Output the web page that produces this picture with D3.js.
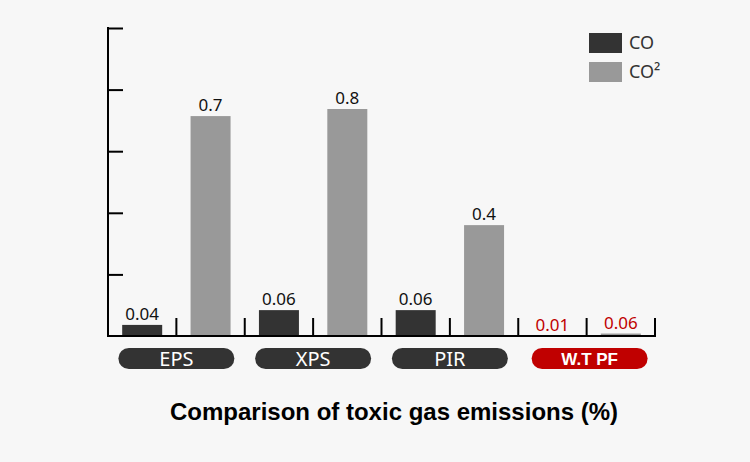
<!DOCTYPE html>
<html>
<head>
<meta charset="utf-8">
<script src="https://cdn.jsdelivr.net/npm/d3@7"></script>
<style>
  body { margin: 0; background: #f7f7f7; }
  svg { display: block; }
</style>
</head>
<body>
<svg width="750" height="462"></svg>
<script>
// materials along the x axis
const materials = ["EPS", "XPS", "PIR", "W.T PF"];
const series = ["CO", "CO²"];

// printed labels above each bar
const coLabels = ["0.04", "0.06", "0.06", "0.01"];
const co2Labels = ["0.7", "0.8", "0.4", "0.06"];

// bar heights as drawn, read against the (unlabelled) axis, 0..1
const coBars = [0.036, 0.084, 0.084, 0];
const co2Bars = [0.714, 0.737, 0.36, 0.008];

const yTicks = [0.2, 0.4, 0.6, 0.8, 1.0];

var plotLeft = 108, plotRight = 655, plotTop = 28, baseline = 336;

var svg = d3.select("svg");

var x0 = d3.scaleBand()
    .domain(materials)
    .range([plotLeft, plotRight]);

var x1 = d3.scaleBand()
    .domain(series)
    .range([0, x0.bandwidth()]);

var y = d3.scaleLinear()
    .domain([0, 1])
    .range([baseline, plotTop]);

var colors = d3.scaleOrdinal()
    .domain(series)
    .range(["#333333", "#999999"]);

// flatten into bar records
let bars = [];
for (let i = 0; i < materials.length; i++) {
    bars.push({m: materials[i], s: series[0], v: coBars[i], label: coLabels[i]});
    bars.push({m: materials[i], s: series[1], v: co2Bars[i], label: co2Labels[i]});
}

var barW = 40;

svg.selectAll("rect.bar")
    .data(bars)
    .enter()
    .append("rect")
    .attr("class", "bar")
    .attr("x", d => x0(d.m) + x1(d.s) + x1.bandwidth() / 2 - barW / 2)
    .attr("y", d => y(d.v))
    .attr("width", barW)
    .attr("height", d => y(0) - y(d.v))
    .attr("fill", d => colors(d.s));

svg.selectAll("text.val")
    .data(bars)
    .enter()
    .append("text")
    .attr("class", "val")
    .attr("x", d => x0(d.m) + x1(d.s) + x1.bandwidth() / 2)
    .attr("y", d => Math.min(y(d.v) - 5, baseline - 4))
    .attr("text-anchor", "middle")
    .style("font-family", "'Noto Sans', sans-serif")
    .style("font-size", "17px")
    .attr("fill", d => d.m == "W.T PF" ? "#c00000" : "#111")
    .text(d => d.label);

// left axis with ticks pointing inward
var yAxis = d3.axisRight(y)
    .tickValues(yTicks)
    .tickSize(15)
    .tickFormat("");

var gy = svg.append("g")
    .attr("transform", "translate(" + plotLeft + ",0)")
    .call(yAxis);
gy.select(".domain").remove();
gy.selectAll("line").attr("stroke", "#000").attr("stroke-width", 2);
svg.append("line")
    .attr("x1", plotLeft).attr("x2", plotLeft)
    .attr("y1", plotTop - 1).attr("y2", baseline + 1)
    .attr("stroke", "#000").attr("stroke-width", 2);

// bottom axis, ticks between every bar slot
var slots = [];
materials.forEach(m => series.forEach(s => slots.push(m + "|" + s)));
var xs = d3.scaleBand().domain(slots).range([plotLeft, plotRight]);

svg.append("line")
    .attr("x1", plotLeft - 1).attr("x2", plotRight + 1)
    .attr("y1", baseline).attr("y2", baseline)
    .attr("stroke", "#000").attr("stroke-width", 2);

svg.selectAll("line.xtick")
    .data(slots.slice(1))
    .enter()
    .append("line")
    .attr("class", "xtick")
    .attr("x1", d => xs(d)).attr("x2", d => xs(d))
    .attr("y1", baseline).attr("y2", baseline - 18)
    .attr("stroke", "#000").attr("stroke-width", 2);
svg.append("line")
    .attr("x1", plotRight).attr("x2", plotRight)
    .attr("y1", baseline).attr("y2", baseline - 18)
    .attr("stroke", "#000").attr("stroke-width", 2);

// material pills
var pillW = 116, pillH = 21;
var pills = svg.selectAll("g.pill")
    .data(materials)
    .enter()
    .append("g")
    .attr("class", "pill")
    .attr("transform", d => "translate(" + (x0(d) + x0.bandwidth() / 2 + (d == "W.T PF" ? 3 : 0)) + "," + (baseline + 12) + ")");

pills.append("rect")
    .attr("x", -pillW / 2)
    .attr("width", pillW)
    .attr("height", pillH)
    .attr("rx", pillH / 2)
    .attr("fill", d => d == "W.T PF" ? "#c00000" : "#333333");

pills.append("text")
    .attr("y", pillH / 2)
    .attr("dy", "0.36em")
    .attr("text-anchor", "middle")
    .attr("fill", "#fff")
    .style("font-family", d => d == "W.T PF" ? "'Liberation Sans', Arial, sans-serif" : "'Noto Sans', sans-serif")
    .style("font-weight", d => d == "W.T PF" ? "bold" : "normal")
    .style("font-size", d => d == "W.T PF" ? "17px" : "20px")
    .text(d => d);

// legend
var legend = svg.selectAll("g.legend")
    .data(series)
    .enter()
    .append("g")
    .attr("class", "legend")
    .attr("transform", (d, i) => "translate(589," + (33 + i * 29) + ")");

legend.append("rect")
    .attr("width", 33)
    .attr("height", 20)
    .attr("fill", d => colors(d));

legend.append("text")
    .attr("x", 40)
    .attr("y", 10)
    .attr("dy", "0.36em")
    .attr("fill", "#333")
    .style("font-family", "'Noto Sans', sans-serif")
    .style("font-size", "18px")
    .text(d => d);

// title
svg.append("text")
    .attr("x", 394)
    .attr("y", 420)
    .attr("text-anchor", "middle")
    .attr("fill", "#000")
    .style("font-family", "'Liberation Sans', Arial, sans-serif")
    .style("font-weight", "bold")
    .style("font-size", "24px")
    .text("Comparison of toxic gas emissions (%)");
</script>
</body>
</html>
